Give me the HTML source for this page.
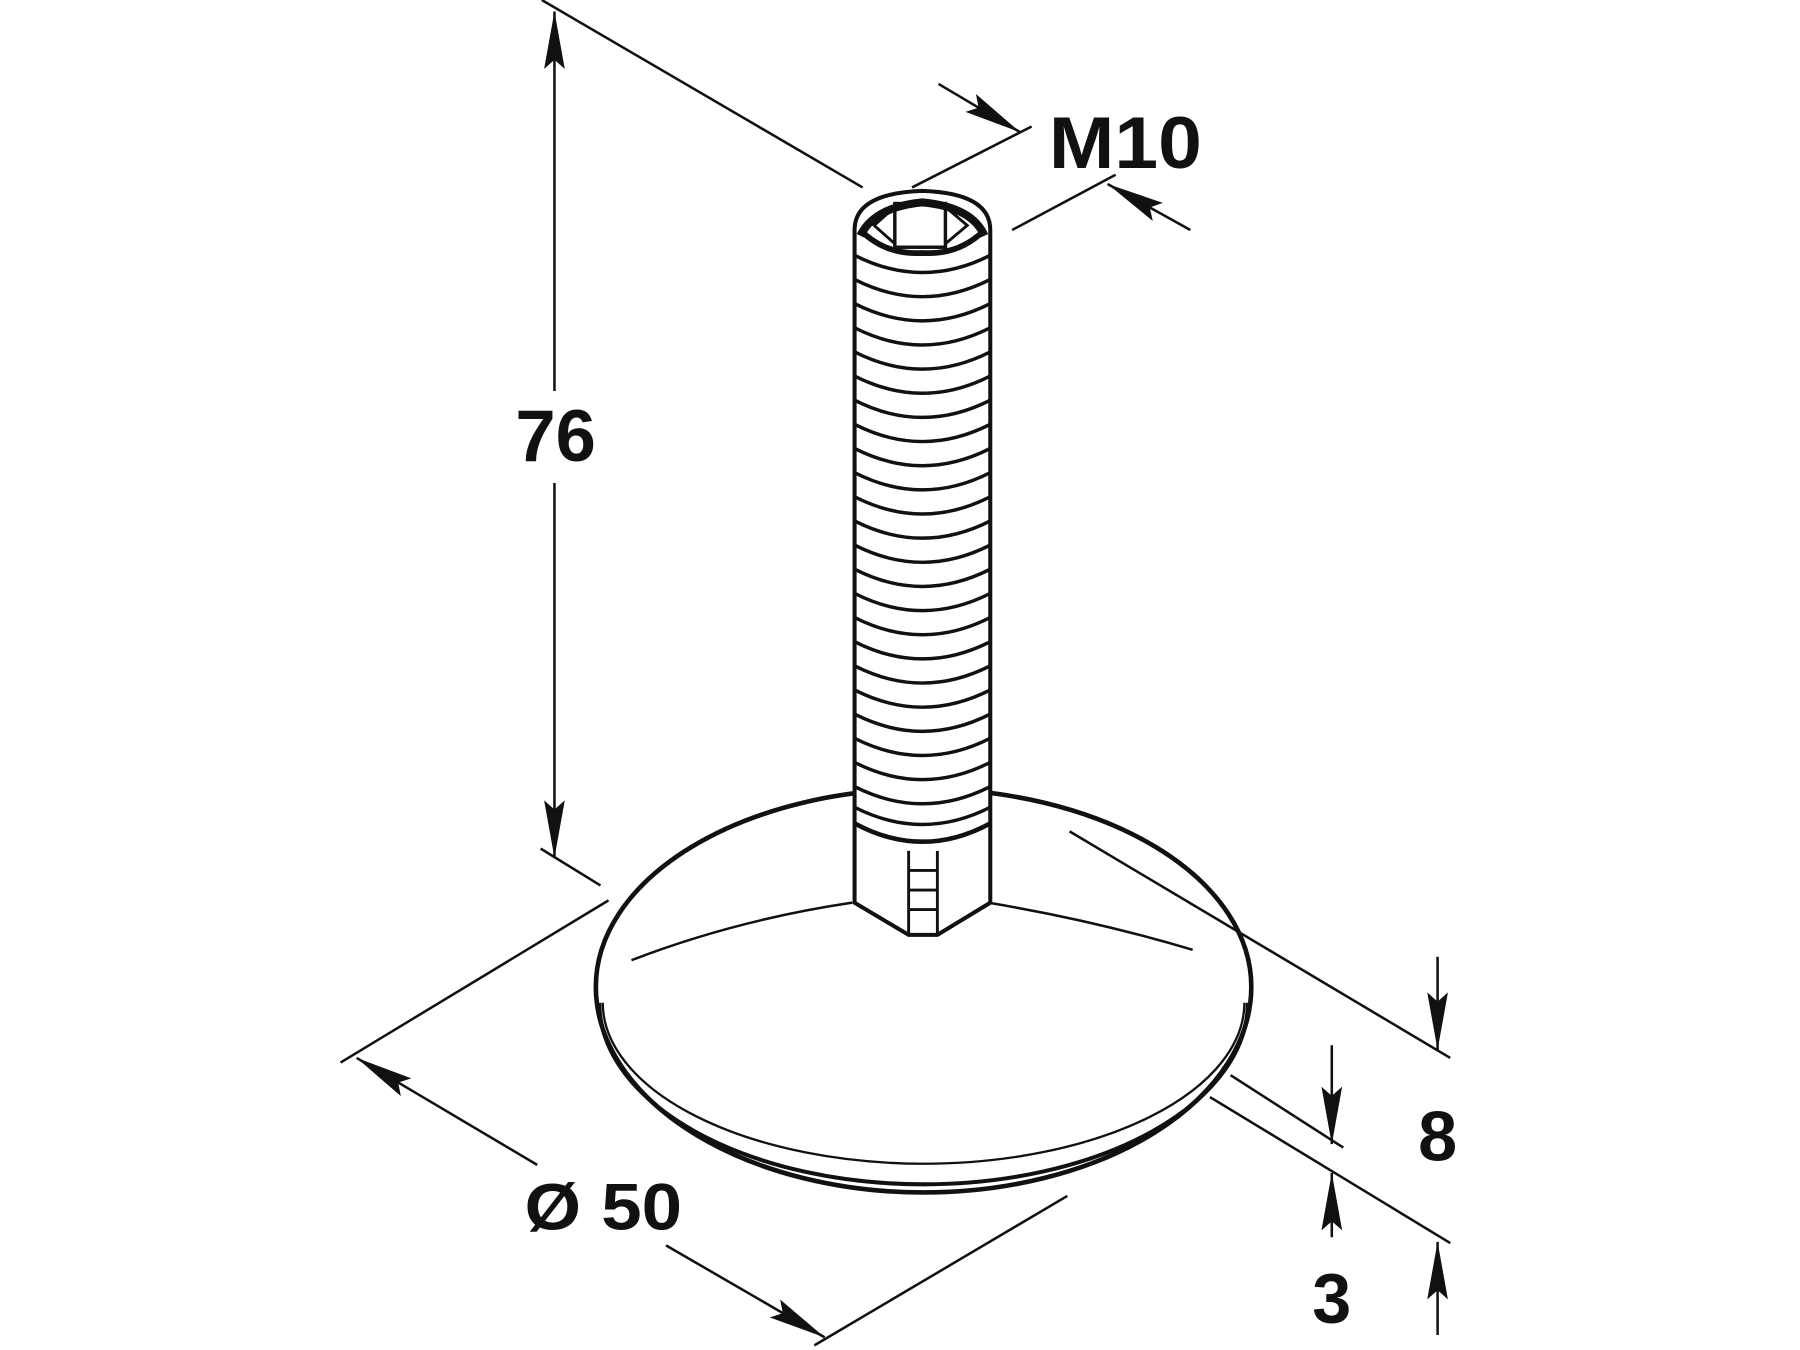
<!DOCTYPE html>
<html><head><meta charset="utf-8"><style>html,body{margin:0;padding:0;background:#fff}svg{display:block}</style></head>
<body>
<svg width="1800" height="1350" viewBox="0 0 1565 1174" xmlns="http://www.w3.org/2000/svg">
<defs>
<marker id="a" viewBox="0 0 50 18" refX="50" refY="9" markerWidth="50" markerHeight="18" markerUnits="userSpaceOnUse" orient="auto"><path d="M0,0 L50,9 L0,18 L8,9 Z" fill="#111"/></marker>
</defs>
<rect width="1565" height="1174" fill="#fff"/>
<g stroke="#111" stroke-width="2.2" fill="none">
<line x1="471" y1="0" x2="750" y2="163"/>
<line x1="482" y1="340" x2="482" y2="10" marker-end="url(#a)"/>
<line x1="482" y1="420" x2="482" y2="746" marker-end="url(#a)"/>
<line x1="470" y1="738" x2="522" y2="770"/>
<line x1="793" y1="163" x2="897" y2="110"/>
<line x1="816" y1="73" x2="887" y2="115" marker-end="url(#a)"/>
<line x1="880" y1="200" x2="970" y2="152"/>
<line x1="1035" y1="200" x2="963" y2="160" marker-end="url(#a)"/>
<line x1="529" y1="783" x2="296" y2="924"/>
<line x1="467" y1="1013" x2="310" y2="920" marker-end="url(#a)"/>
<line x1="579" y1="1083" x2="717" y2="1163" marker-end="url(#a)"/>
<line x1="708" y1="1170" x2="928" y2="1040"/>
<line x1="1070" y1="935" x2="1168" y2="998"/>
<line x1="1052" y1="954" x2="1261" y2="1081"/>
<line x1="1250" y1="832" x2="1250" y2="913" marker-end="url(#a)"/>
<line x1="1158" y1="909" x2="1158" y2="995" marker-end="url(#a)"/>
<line x1="1158" y1="1076" x2="1158" y2="1020" marker-end="url(#a)"/>
<line x1="1250" y1="1161" x2="1250" y2="1080" marker-end="url(#a)"/>
</g>
<g stroke="#111" fill="#fff">
<path d="M518,858 A285,172 0 0 1 1088,858 A285,179 0 0 1 518,858 Z" stroke-width="4"/>
<path d="M521,872 A282,158 0 0 0 1085,872" stroke-width="3.5" fill="none"/>
<path d="M524,872 A279,140 0 0 0 1082,872" stroke-width="2" fill="none"/>
<path d="M549,835 Q640,800 741,785" stroke-width="2.2" fill="none"/>
<path d="M859,785 Q950,800 1037,826" stroke-width="2.2" fill="none"/>
</g>
<line x1="930" y1="723" x2="1261" y2="920" stroke="#111" stroke-width="2.2"/>
<g stroke="#111" fill="#fff" stroke-width="3.5">
<path d="M743,785 L743,200 Q743,168 802,166 Q861,168 861,200 L861,785 L815,813 L790,813 Z"/>
<path d="M748,205 Q760,180 802,176 Q845,180 856,205" stroke-width="7" fill="none"/>
<path d="M748,200 Q770,222 802,220 Q834,222 856,200" stroke-width="5" fill="none"/>
<rect x="778" y="177" width="44" height="38" stroke-width="3" fill="none"/>
<path d="M778,180 L760,196 L778,212 M822,180 L841,196 L822,212" stroke-width="2.5" fill="none"/>
<path d="M743,785 L790,813 M861,785 L815,813" stroke-width="3" fill="none"/>
<line x1="790" y1="740" x2="790" y2="813" stroke-width="2.5"/>
<line x1="815" y1="740" x2="815" y2="813" stroke-width="2.5"/>
<path d="M790,757 H815 M790,774 H815 M790,791 H815" stroke-width="2.5"/>
<path d="M743,716 Q802,748 861,716" stroke-width="4" fill="none"/>
</g>
<g stroke="#111" stroke-width="3" fill="none">
<path d="M743,222 Q802,252 861,222"/><path d="M743,243 Q802,273 861,243"/><path d="M743,264 Q802,294 861,264"/><path d="M743,285 Q802,315 861,285"/><path d="M743,306 Q802,336 861,306"/><path d="M743,327 Q802,357 861,327"/><path d="M743,348 Q802,378 861,348"/><path d="M743,369 Q802,399 861,369"/><path d="M743,390 Q802,420 861,390"/><path d="M743,411 Q802,441 861,411"/><path d="M743,432 Q802,462 861,432"/><path d="M743,453 Q802,483 861,453"/><path d="M743,474 Q802,504 861,474"/><path d="M743,495 Q802,525 861,495"/><path d="M743,516 Q802,546 861,516"/><path d="M743,537 Q802,567 861,537"/><path d="M743,558 Q802,588 861,558"/><path d="M743,579 Q802,609 861,579"/><path d="M743,600 Q802,630 861,600"/><path d="M743,621 Q802,651 861,621"/><path d="M743,642 Q802,672 861,642"/><path d="M743,663 Q802,693 861,663"/><path d="M743,684 Q802,714 861,684"/><path d="M743,702 Q802,732 861,702"/>
</g>
<g font-family="Liberation Sans, Arial, sans-serif" font-weight="bold" fill="#111">
<text x="912" y="146" font-size="64" textLength="133" lengthAdjust="spacingAndGlyphs">M10</text>
<text x="448" y="401" font-size="64" textLength="70" lengthAdjust="spacingAndGlyphs">76</text>
<text x="456" y="1069" font-size="57" textLength="137" lengthAdjust="spacingAndGlyphs">Ø 50</text>
<text x="1250" y="1009" font-size="61" text-anchor="middle">8</text>
<text x="1158" y="1150" font-size="61" text-anchor="middle">3</text>
</g>
</svg>
</body></html>
